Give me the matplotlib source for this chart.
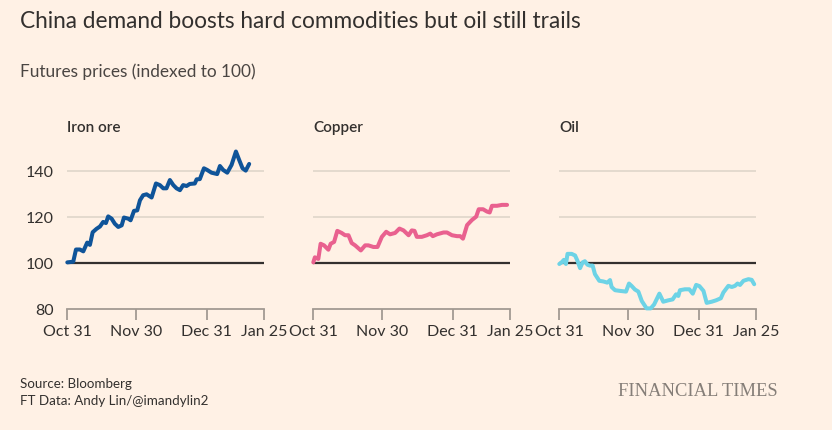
import matplotlib
matplotlib.use('Agg')
import matplotlib.pyplot as plt
import pandas as pd

# ---------------- data ----------------
start_date = '2024-10-31'
end_date = '2025-01-25'
tick_dates = ['2024-10-31', '2024-11-30', '2024-12-31', '2025-01-25']
tick_labels = ['Oct 31', 'Nov 30', 'Dec 31', 'Jan 25']
y_ticks = [80, 100, 120, 140]
y_tick_labels = ['80', '100', '120', '140']

panel_titles = ['Iron ore', 'Copper', 'Oil']

# day offsets from Oct 31 and indexed values
iron_days = [0, 2.6, 3.8, 5.5, 7, 8.7, 9.9, 11.1, 12.8, 14.3, 15.7, 16.9, 17.9, 19.4,
             20.8, 22.3, 23.8, 24.8, 26.7, 27.7, 29.2, 30.6, 31.8, 33.2, 34.7, 36.9,
             38.8, 40.5, 42, 43.4, 44.9, 46.4, 47.8, 49.3, 50.7, 52.2, 53.6, 55.8,
             56.6, 58, 59.8, 61.2, 63.1, 65.6, 66.8, 68.2, 70, 71.9, 73.8, 75.2,
             76.7, 78.1, 79.6]
iron_vals = [100.4, 100.7, 106, 106, 105.2, 109, 108, 113.5, 115, 116, 118, 117.5,
             120.4, 119.4, 117.2, 115.8, 116.5, 119.9, 119.4, 118.7, 122.8, 123,
             127.4, 129.6, 130, 128.6, 134.7, 134, 132.6, 132.6, 136.2, 134, 132.6,
             131.8, 134, 133.6, 134.5, 134.7, 136.5, 136.6, 141.3, 140.6, 139.4,
             138.8, 142.3, 140.6, 139.4, 142.8, 148.6, 145, 141.3, 140.3, 143.2]

copper_days = [0, 0.7, 2.2, 3.2, 4.7, 6.6, 7.6, 9.1, 10.5, 12.4, 13.9, 15.4, 16.8,
               18.3, 20.8, 22.7, 24.1, 26.3, 28.1, 30, 31.9, 33.6, 35.8, 37.7, 39.5,
               41.7, 43.1, 44.3, 45.3, 47.5, 49.7, 51.2, 52.3, 54.1, 57, 58.5, 60.7,
               62.9, 64.3, 65.5, 67.3, 69.4, 71.3, 72.4, 74.3, 76, 77.2, 78.2, 80.4,
               82.6, 84.8]
copper_vals = [100.4, 102.6, 101.9, 108.5, 107.8, 105.9, 108.5, 109.3, 114.1, 113.2,
               112.2, 112.2, 108.8, 107.8, 105.6, 107.8, 107.8, 107.1, 107.1, 111.5,
               113.7, 112.6, 113.2, 115.1, 114.3, 112.2, 114.3, 114.1, 111.5, 111.5,
               112.2, 112.9, 111.8, 112.6, 113.4, 113.4, 112.2, 111.8, 111.8, 110.7,
               116.6, 118.8, 120.3, 123.5, 123.5, 122.5, 122.1, 125, 125, 125.4, 125.4]

oil_days = [0, 1, 2, 2.9, 3.6, 5.4, 6.9, 7.9, 9.1, 10.2, 11.2, 12.3, 13.4, 14.6, 15.6,
            17.5, 19.3, 21, 22.2, 22.9, 24.4, 26.6, 29.2, 30.5, 31.7, 33.1, 34.6,
            36.1, 38.2, 40, 41.5, 43.8, 45.5, 47.7, 49.6, 51.1, 52.1, 52.8, 55, 56.9,
            58.4, 59.9, 61.3, 63.1, 64.5, 66.7, 68.6, 70.7, 71.8, 74, 75.5, 76.9, 78,
            79.1, 80.6, 82.8, 84.2, 85.3]
oil_vals = [99.7, 100.4, 101.5, 99.7, 104.1, 104.1, 103.4, 101.2, 97.9, 100.4, 100.9,
            99.4, 99, 99, 95.3, 92.4, 92.1, 91.6, 92.7, 89.7, 88.3, 88, 87.7, 91.2,
            90.1, 88.6, 87.7, 83.6, 80.4, 80.4, 82.1, 86.8, 83.3, 83.9, 84.3, 86.5,
            85.8, 88.3, 88.7, 88.7, 86.8, 90.6, 90.1, 88, 82.8, 83.3, 83.9, 84.8, 87.3,
            90.2, 89.7, 90.2, 91.2, 90.6, 92.4, 93.1, 92.8, 90.9]

series_days = [iron_days, copper_days, oil_days]
series_vals = [iron_vals, copper_vals, oil_vals]
series_colors = ['#0f5499', '#e9618f', '#6dd3e6']

# ---------------- style ----------------
BG = '#fff1e5'
TEXT = '#33302e'
GRID = '#ddd3c8'
AXIS = '#a39a92'
FONT = ['Lato', 'DejaVu Sans']
plt.rcParams['font.family'] = FONT

W, H = 832, 430
fig = plt.figure(figsize=(W / 100, H / 100), dpi=100, facecolor=BG)

def fx(px):
    return px / W

def fy(py):
    return 1 - py / H

panel_left = [67.3, 313.3, 559.3]
panel_width = 196.5
y_bottom_px = 309.3
y_top_px = 148.3
ymin, ymax = 80, 150

start = pd.Timestamp(start_date)
end = pd.Timestamp(end_date)
tick_pos = [(pd.Timestamp(d) - start).days for d in tick_dates]
xmax = (end - start).days

for i in range(3):
    ax = fig.add_axes([fx(panel_left[i]), fy(y_bottom_px), panel_width / W,
                       (y_bottom_px - y_top_px) / H])
    ax.set_facecolor('none')
    ax.set_xlim(0, xmax)
    ax.set_ylim(ymin, ymax)
    for s in ['top', 'right', 'left']:
        ax.spines[s].set_visible(False)
    ax.spines['bottom'].set_color(AXIS)
    ax.spines['bottom'].set_linewidth(1.3)
    for yv in y_ticks[2:]:
        ax.axhline(yv, color=GRID, lw=1.1, zorder=1)
    ax.axhline(100, color=TEXT, lw=1.6, zorder=2)
    ax.plot(series_days[i], series_vals[i], color=series_colors[i], lw=2.9,
            solid_capstyle='round', solid_joinstyle='round', zorder=3, clip_on=False)
    ax.set_xticks(tick_pos)
    ax.set_xticklabels(tick_labels)
    ax.tick_params(axis='x', length=8, width=1.3, color=AXIS, pad=3.5,
                   labelsize=11.5, labelcolor=TEXT)
    ax.set_yticks(y_ticks)
    if i == 0:
        ax.set_yticklabels(y_tick_labels)
        ax.tick_params(axis='y', length=0, pad=9.5, labelsize=11.5, labelcolor=TEXT)
    else:
        ax.tick_params(axis='y', length=0, labelleft=False)
    fig.text(fx(panel_left[i]), fy(128), panel_titles[i], fontsize=11,
             fontweight='semibold', color=TEXT, va='center', ha='left')

fig.text(fx(20), fy(22), 'China demand boosts hard commodities but oil still trails',
         fontsize=16.3, color=TEXT, va='center', ha='left')
fig.text(fx(20), fy(72), 'Futures prices (indexed to 100)', fontsize=12.4,
         color='#4a4542', va='center', ha='left')
fig.text(fx(20), fy(384), 'Source: Bloomberg', fontsize=9.6, color=TEXT,
         va='center', ha='left')
fig.text(fx(20), fy(401), 'FT Data: Andy Lin/@imandylin2', fontsize=9.6, color=TEXT,
         va='center', ha='left')
fig.text(fx(778), fy(391), 'FINANCIAL TIMES', fontsize=13.3, color='#857e78',
         family=['Liberation Serif', 'DejaVu Serif'], va='center', ha='right')

fig.savefig('out.png', dpi=100, facecolor=BG)
